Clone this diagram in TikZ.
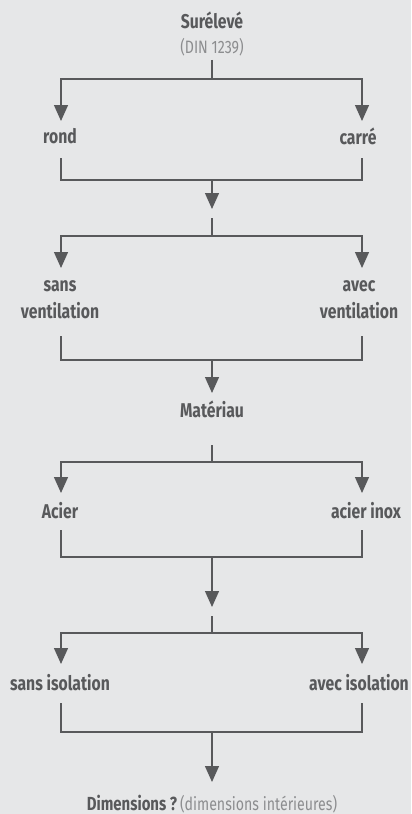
\documentclass[tikz,border=0pt]{standalone}
\usepackage{fontspec}
\setmainfont{Fira Sans}[FakeStretch=0.79]
\usetikzlibrary{arrows.meta}
\definecolor{bg}{HTML}{E6E7E8}
\definecolor{ink}{HTML}{58595B}
\definecolor{soft}{HTML}{8C8D8F}
\tikzset{
  x=1bp, y=-1bp,
  lbl/.style={font=\fontsize{20}{27}\selectfont\bfseries, text=ink, inner sep=0pt, align=center},
  sub/.style={font=\fontsize{18}{22}\selectfont, text=soft, inner sep=0pt},
  wire/.style={draw=ink, line width=1.3bp},
  arr/.style={wire, -{Triangle[width=14bp,length=16bp]}},
}
\begin{document}
\begin{tikzpicture}
\fill[bg] (0,0) rectangle (411,814);
\useasboundingbox (0,0) rectangle (411,814);

% texts
\node[lbl] (sur) at (212,20) {Surélevé};
\node[sub] (din) at (212,47) {(DIN 1239)};
\node[lbl] (rond) at (60,136) {rond};
\node[lbl] (carre) at (358,136) {carré};
\node[lbl] (sansv) at (60,300) {sans\\ventilation};
\node[lbl] (avecv) at (359,300) {avec\\ventilation};
\node[lbl] (mat) at (212,409) {Matériau};
\node[lbl] (acier) at (60,511) {Acier};
\node[lbl] (inox) at (366,511) {acier inox};
\node[lbl] (sansi) at (60,683) {sans isolation};
\node[lbl] (aveci) at (359,683) {avec isolation};
\node[inner sep=0pt] (dim) at (212,804) {\fontsize{19}{22}\selectfont\bfseries\color{ink}Dimensions~?\fontsize{18}{22}\selectfont\mdseries\color{soft}\,(dimensions intérieures)};

% stage 1
\coordinate (s1) at (212,60);
\coordinate (j1) at (212,79);
\coordinate (rondIn) at (61,121);
\coordinate (carreIn) at (362,121);
\coordinate (rondOut) at (61,158);
\coordinate (carreOut) at (362,158);
\coordinate (m1) at (212,180);
\coordinate (a1) at (212,209);
\draw[wire] (s1) -- (j1);
\draw[arr] (j1) -| (rondIn);
\draw[arr] (j1) -| (carreIn);
\draw[wire] (rondOut) |- (m1) -| (carreOut);
\draw[arr] (m1) -- (a1);

% stage 2
\coordinate (s2) at (212,218);
\coordinate (j2) at (212,236);
\coordinate (sansvIn) at (61,268);
\coordinate (avecvIn) at (362,268);
\coordinate (sansvOut) at (61,336);
\coordinate (avecvOut) at (362,336);
\coordinate (m2) at (212,360);
\coordinate (a2) at (212,393);
\draw[wire] (s2) -- (j2);
\draw[arr] (j2) -| (sansvIn);
\draw[arr] (j2) -| (avecvIn);
\draw[wire] (sansvOut) |- (m2) -| (avecvOut);
\draw[arr] (m2) -- (a2);

% stage 3
\coordinate (s3) at (212,445);
\coordinate (j3) at (212,462);
\coordinate (acierIn) at (61,493);
\coordinate (inoxIn) at (362,493);
\coordinate (acierOut) at (61,530);
\coordinate (inoxOut) at (362,530);
\coordinate (m3) at (212,557);
\coordinate (a3) at (212,607);
\draw[wire] (s3) -- (j3);
\draw[arr] (j3) -| (acierIn);
\draw[arr] (j3) -| (inoxIn);
\draw[wire] (acierOut) |- (m3) -| (inoxOut);
\draw[arr] (m3) -- (a3);

% stage 4
\coordinate (s4) at (212,616);
\coordinate (j4) at (212,633);
\coordinate (sansiIn) at (61,664);
\coordinate (aveciIn) at (362,664);
\coordinate (sansiOut) at (61,703);
\coordinate (aveciOut) at (362,703);
\coordinate (m4) at (212,732);
\coordinate (a4) at (212,782);
\draw[wire] (s4) -- (j4);
\draw[arr] (j4) -| (sansiIn);
\draw[arr] (j4) -| (aveciIn);
\draw[wire] (sansiOut) |- (m4) -| (aveciOut);
\draw[arr] (m4) -- (a4);
\end{tikzpicture}
\end{document}
